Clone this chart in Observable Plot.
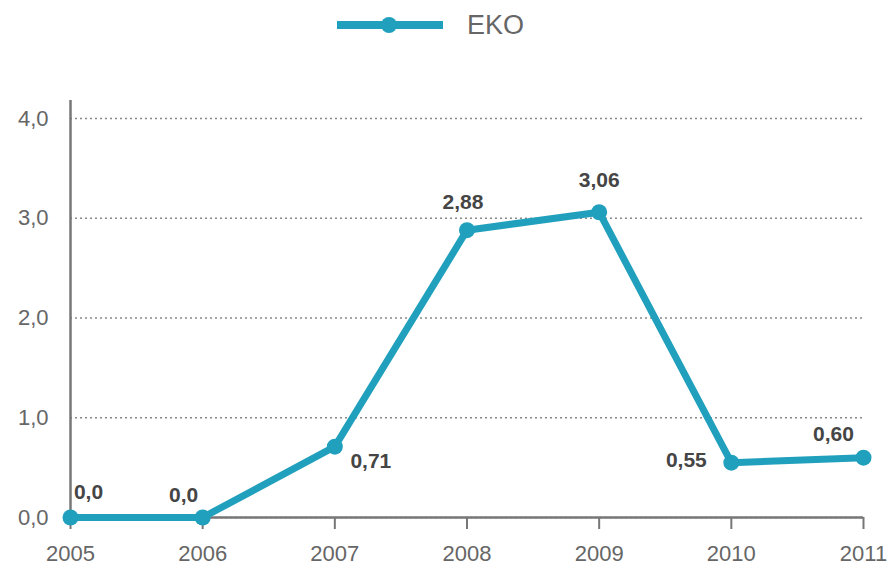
<!DOCTYPE html>
<html>
<head>
<meta charset="utf-8">
<script src="https://cdn.jsdelivr.net/npm/d3@7"></script>
<script src="https://cdn.jsdelivr.net/npm/@observablehq/plot@0.6"></script>
<style>
  html, body { margin: 0; padding: 0; background: #fff; }
  body { width: 890px; height: 573px; overflow: hidden; font-family: "Liberation Sans", Arial, sans-serif; }
  #legend { position: relative; height: 50px; width: 890px; }
  #legend svg { position: absolute; left: 0; top: 0; }
</style>
</head>
<body>
<div id="legend"></div>
<div id="chart"></div>
<script>
const years = [2005, 2006, 2007, 2008, 2009, 2010, 2011];
const values = [0.0, 0.0, 0.71, 2.88, 3.06, 0.55, 0.60];
const valueLabels = ["0,0", "0,0", "0,71", "2,88", "3,06", "0,55", "0,60"];
const yTicks = [0, 1, 2, 3, 4];
const seriesName = "EKO";

const lineColor = "#21a0bd";
const data = years.map((year, i) => ({ year, value: values[i], label: valueLabels[i] }));

// label offsets (style, not data)
const labelOffsets = [[18, -25], [-19, -22], [36, 15], [-4, -28], [0, -32], [-45, -2], [-30, -23]];

// Legend
const leg = d3.select("#legend").append("svg").attr("width", 890).attr("height", 50);
leg.append("line").attr("x1", 337).attr("x2", 443).attr("y1", 25).attr("y2", 25)
  .attr("stroke", lineColor).attr("stroke-width", 8);
leg.append("circle").attr("cx", 389).attr("cy", 25).attr("r", 8).attr("fill", lineColor);
leg.append("text").attr("x", 467).attr("y", 34).text(seriesName)
  .attr("font-size", 27).attr("fill", "#666").attr("font-family", "Liberation Sans, Arial, sans-serif");

const fmtY = d => d.toFixed(1).replace(".", ",");

const plot = Plot.plot({
  width: 890,
  height: 523,
  marginLeft: 70,
  marginRight: 27,
  marginTop: 50,
  marginBottom: 56,
  style: { fontFamily: "Liberation Sans, Arial, sans-serif", fontSize: "22px", background: "#fff", overflow: "visible" },
  x: { type: "linear", domain: [2005, 2011], label: null },
  y: { domain: [0, 4.18], label: null },
  marks: [
    Plot.gridY(yTicks, { stroke: "#888", strokeOpacity: 1, strokeWidth: 1.5, strokeDasharray: "2,3" }),
    Plot.axisY(yTicks, { tickSize: 0, tickPadding: 22, tickFormat: fmtY, fontSize: 22, fill: "#666", label: null }),
    Plot.axisX(years, { tickSize: 12, tickPadding: 16, tickFormat: d => String(d), fontSize: 22, fill: "#666", stroke: "#777", strokeWidth: 2, label: null }),
    Plot.ruleX([2005], { stroke: "#777", strokeWidth: 2.5 }),
    Plot.ruleY([0], { stroke: "#777", strokeWidth: 2.5 }),
    Plot.line(data, { x: "year", y: "value", stroke: lineColor, strokeWidth: 7, strokeLinejoin: "round" }),
    Plot.dot(data, { x: "year", y: "value", r: 8, fill: lineColor }),
    ...data.map((d, i) => Plot.text([d], {
      x: "year", y: "value", text: "label",
      dx: labelOffsets[i][0], dy: labelOffsets[i][1],
      fontSize: 21, fontWeight: "bold", fill: "#454545"
    }))
  ]
});
document.getElementById("chart").appendChild(plot);
</script>
</body>
</html>
